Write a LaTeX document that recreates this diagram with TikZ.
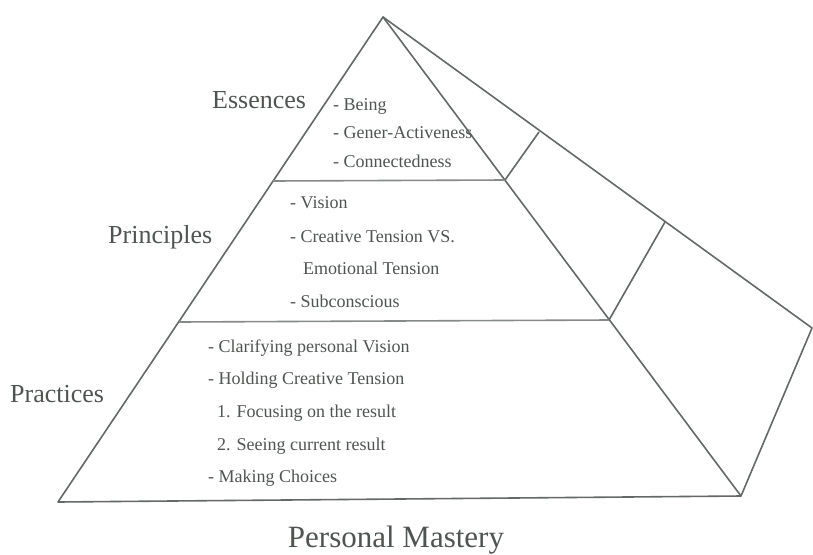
\documentclass[tikz,border=0pt]{standalone}
\usepackage{fontspec}
\setmainfont{Liberation Serif}
\usetikzlibrary{positioning}
\definecolor{inkgray}{RGB}{78, 84, 80}
\definecolor{edgegray}{RGB}{100, 104, 104}
\definecolor{rulegray}{RGB}{135, 138, 138}

\begin{document}
\begin{tikzpicture}[
    x=1pt, y=-1pt,
    edge/.style={draw=edgegray, line width=1.6pt, line join=round},
    divider/.style={draw=rulegray, line width=1.6pt},
    level/.style={
        text=inkgray,
        font=\fontsize{26}{30}\selectfont,
        inner sep=0pt,
        anchor=base west
    },
    item/.style={
        text=inkgray,
        font=\fontsize{18}{22}\selectfont,
        inner sep=0pt,
        anchor=base west
    }
]
\useasboundingbox (0,0) rectangle (813,554);

% corners of the pyramid
\coordinate (apex) at (383,17);
\coordinate (bl) at (58,502);
\coordinate (br) at (741,496);
\coordinate (back) at (812,328);
% ends of the two dividers
\coordinate (d1l) at (273,181);
\coordinate (d1r) at (505,180);
\coordinate (d2l) at (179,322);
\coordinate (d2r) at (609,320);
\coordinate (b1) at (539,132);
\coordinate (b2) at (665,222);

% front face and side face
\draw[edge] (apex) -- (bl) -- (br) -- cycle;
\draw[edge] (apex) -- (back) -- (br);

% dividers between the levels
\draw[divider] (d1l) -- (d1r);
\draw[divider] (d2l) -- (d2r);
\draw[edge] (d1r) -- (b1);
\draw[edge] (d2r) -- (b2);

% level names
\node[level] (essences) at (212,108) {Essences};
\node[level] (principles) at (108,243) {Principles};
\node[level] (practices) at (10,402) {Practices};
\node[text=inkgray, font=\fontsize{31}{36}\selectfont, inner sep=0pt, anchor=base]
    (mastery) at (396,547) {Personal Mastery};

% essences
\node[item] (being) at (333,110) {- Being};
\node[item] (gener) at (333,138) {- Gener-Activeness};
\node[item] (connected) at (333,167) {- Connectedness};

% principles
\node[item] (vision) at (290,208) {- Vision};
\node[item] (creative) at (290,242) {- Creative Tension VS.};
\node[item] (emotional) at (303,274) {Emotional Tension};
\node[item] (subconscious) at (290,307) {- Subconscious};

% practices
\node[item] (clarifying) at (208,352) {- Clarifying personal Vision};
\node[item] (holding) at (208,384) {- Holding Creative Tension};
\node[item] (focusing) at (217,417) {1. Focusing on the result};
\node[item] (seeing) at (217,450) {2. Seeing current result};
\node[item] (choices) at (208,482) {- Making Choices};

\end{tikzpicture}
\end{document}
